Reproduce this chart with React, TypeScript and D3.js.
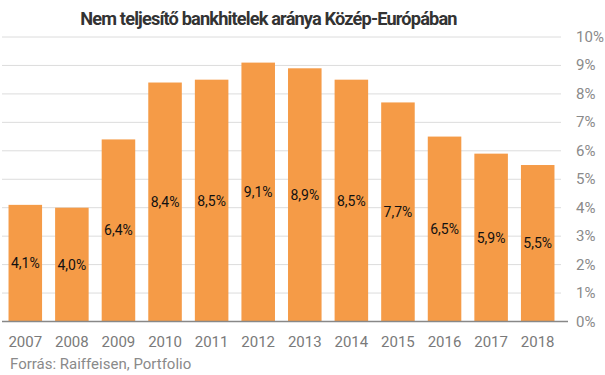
import React from "react";
import * as d3 from "d3";

const years = ["2007","2008","2009","2010","2011","2012","2013","2014","2015","2016","2017","2018"];
const values = [4.1, 4.0, 6.4, 8.4, 8.5, 9.1, 8.9, 8.5, 7.7, 6.5, 5.9, 5.5];
const yTicks = [0,1,2,3,4,5,6,7,8,9,10];
const title = "Nem teljesítő bankhitelek aránya Közép-Európában";
const source = "Forrás: Raiffeisen, Portfolio";

export default function App() {
  const W = 605, H = 375;
  const x = d3.scaleBand<string>().domain(years).range([2, 561]).paddingInner(0.28).paddingOuter(0.14);
  const y = d3.scaleLinear().domain([0, 10]).range([321.5, 37]);
  const fmt = (v: number) => v.toFixed(1).replace(".", ",") + "%";
  const font = "Roboto, 'Noto Sans', sans-serif";
  return (
    <svg width={W} height={H} style={{ position: "absolute", left: 0, top: 0, background: "#fff" }} fontFamily={font}>
      <text x={268.5} y={25} textAnchor="middle" fontSize={18.2} fontWeight={700} fill="#333" letterSpacing={-0.85}>{title}</text>
      {yTicks.map(t => (
        <g key={t}>
          {t > 0 && <line x1={2} x2={561} y1={y(t)} y2={y(t)} stroke="#dcdcdc" strokeWidth={1} />}
          <text x={576} y={y(t) + 5} fontSize={15} fill="#8a8a8a">{t}%</text>
        </g>
      ))}
      {values.map((v, i) => (
        <g key={years[i]}>
          <rect x={x(years[i])} y={y(v)} width={x.bandwidth()} height={y(0) - y(v)} fill="#f59b47" />
          <text x={(x(years[i]) as number) + x.bandwidth() / 2} y={(y(v) + y(0)) / 2 + 5} textAnchor="middle" fontSize={14} fill="#111">{fmt(v)}</text>
          <text x={(x(years[i]) as number) + x.bandwidth() / 2} y={347} textAnchor="middle" fontSize={15} fill="#7a7a7a">{years[i]}</text>
        </g>
      ))}
      <line x1={2} x2={568} y1={y(0)} y2={y(0)} stroke="#888" strokeWidth={1.5} />
      <text x={10} y={369} fontSize={15} fill="#8a8a8a">{source}</text>
    </svg>
  );
}
